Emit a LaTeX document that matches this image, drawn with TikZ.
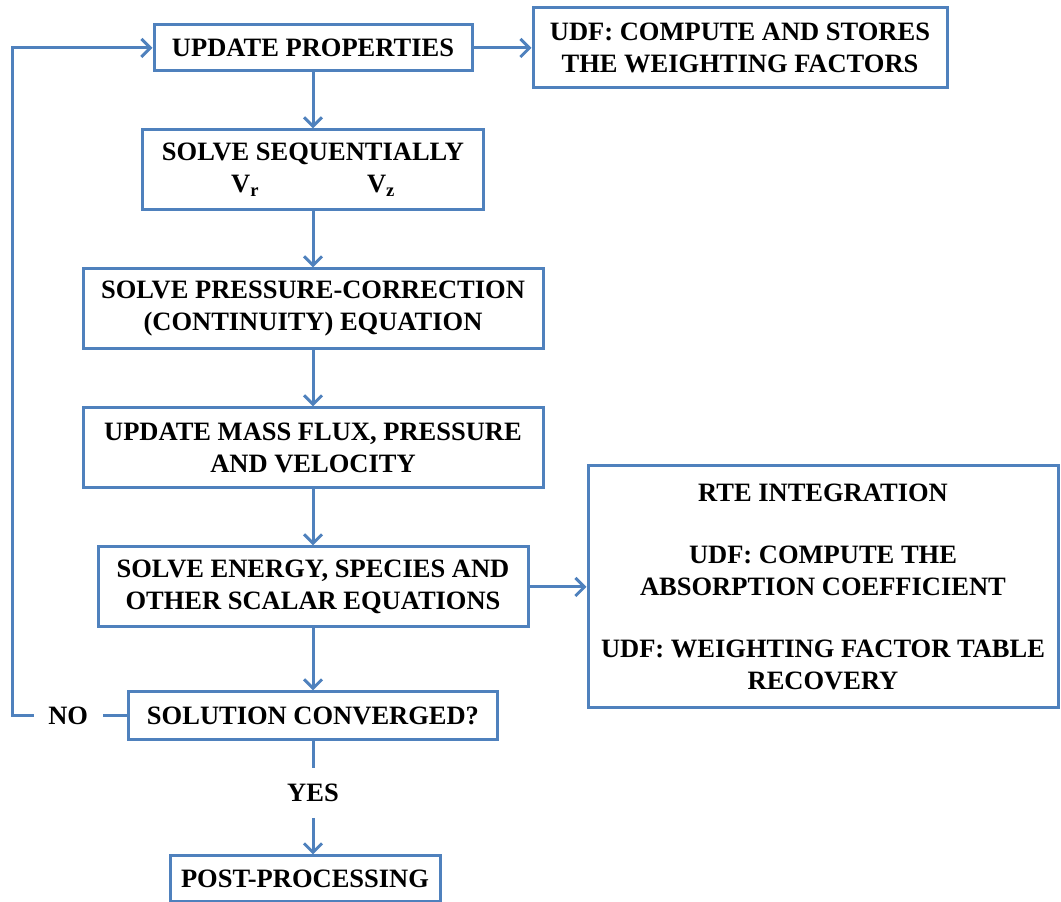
\documentclass[tikz,border=0pt]{standalone}
\usepackage{fontspec}
\setmainfont{Liberation Serif}
\usetikzlibrary{arrows.meta,positioning}
\definecolor{flowblue}{RGB}{79,129,189}

\begin{document}
\begin{tikzpicture}[x=1pt,y=1pt,->,>={Straight Barb[length=9pt,width=18pt]},
                    line width=3pt,color=flowblue,text=black,node distance=56pt,
                    font=\fontsize{26.5}{32}\selectfont\bfseries]
  \tikzstyle{stage}=[rectangle,draw=flowblue,fill=white,align=center,inner sep=0pt]
  \tikzstyle{tag}=[inner xsep=13pt,inner ysep=0pt,minimum height=47pt]

  \useasboundingbox (0,0) rectangle (1061,902);

  \node[stage,minimum width=318pt,minimum height=46pt] (UP) at (313,854) {UPDATE PROPERTIES};
  \node[stage,minimum width=414pt,minimum height=80pt] (UDF) [right=58pt of UP]
        {UDF: COMPUTE AND STORES\\THE WEIGHTING FACTORS};
  \node[stage,minimum width=341pt,minimum height=80pt] (SEQ) [below=of UP]
        {SOLVE SEQUENTIALLY\\V\textsubscript{r}\hspace{108pt}V\textsubscript{z}};
  \node[stage,minimum width=460pt,minimum height=80pt] (PC) [below=of SEQ]
        {SOLVE PRESSURE-CORRECTION\\(CONTINUITY) EQUATION};
  \node[stage,minimum width=460pt,minimum height=80pt] (MF) [below=of PC]
        {UPDATE MASS FLUX, PRESSURE\\AND VELOCITY};
  \node[stage,minimum width=430pt,minimum height=80pt] (EN) [below=of MF]
        {SOLVE ENERGY, SPECIES AND\\OTHER SCALAR EQUATIONS};
  \node[stage,minimum width=470pt,minimum height=242pt] (RTE) [right=57pt of EN]
        {RTE INTEGRATION\\[30pt]UDF: COMPUTE THE\\ABSORPTION COEFFICIENT\\[30pt]
         UDF: WEIGHTING FACTOR TABLE\\RECOVERY};
  \node[stage,minimum width=369pt,minimum height=48pt] (CONV) [below=62pt of EN] {SOLUTION CONVERGED?};
  \node[tag] (NO) [left=24.5pt of CONV] {NO};
  \node[tag,inner xsep=0pt] (YES) [below=26.5pt of CONV] {YES};
  \node[stage,minimum width=270pt,minimum height=46pt] (POST) [below=36.5pt of YES,xshift=-8pt]
        {POST-PROCESSING};
  \coordinate (LOOP) at (12,0);

  \path (UP) edge (UDF)
        (UP) edge (SEQ)
        (SEQ) edge (PC)
        (PC) edge (MF)
        (MF) edge (EN)
        (EN) edge (RTE)
        (EN) edge (CONV)
        (CONV) edge[-] (NO)
        (CONV) edge[-] (YES);
  \draw (YES.south) -- (YES.south |- POST.north);
  \draw (NO.west) -- (NO.west -| LOOP) |- (UP);
\end{tikzpicture}
\end{document}
